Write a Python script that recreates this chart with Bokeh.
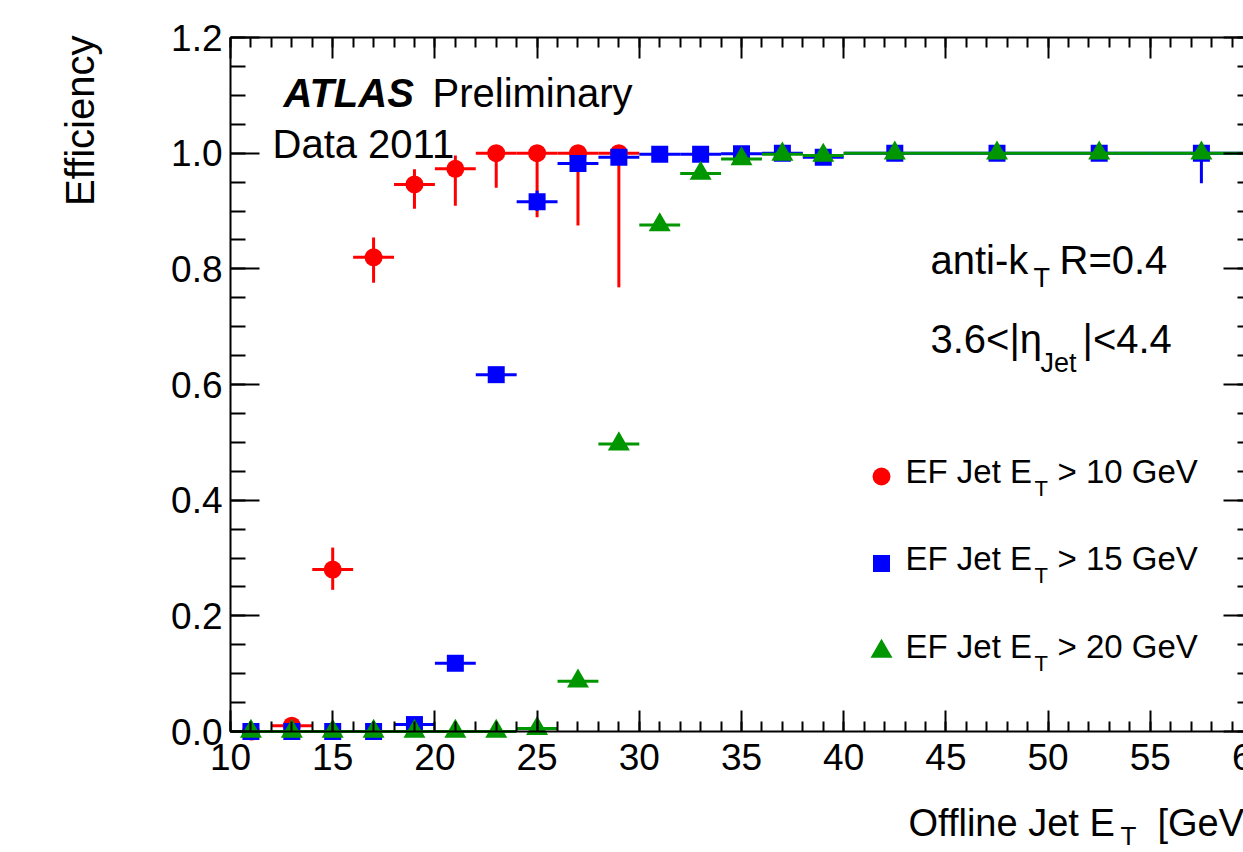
import numpy as np
from math import pi
from bokeh.plotting import figure
from bokeh.models import Range1d, LinearAxis, FixedTicker, PrintfTickFormatter, Label
from bokeh.embed import file_html
from bokeh.resources import INLINE

# ---------------- data ----------------
bin_edges = [10, 12, 14, 16, 18, 20, 22, 24, 26, 28, 30, 32, 34, 36, 38, 40, 45, 50, 55, 60]

# EF Jet ET > 10 GeV (first 10 bins)
eff10 = [0.0, 0.010, 0.280, 0.820, 0.946, 0.973, 1.000, 1.000, 1.000, 1.000]
eff10_lo = [0.0, 0.0, 0.245, 0.776, 0.904, 0.909, 0.940, 0.889, 0.875, 0.768]
eff10_hi = [0.0, 0.020, 0.318, 0.854, 0.972, 0.996, 1.000, 1.000, 1.000, 1.000]

# EF Jet ET > 15 GeV
eff15 = [0.0, 0.0, 0.0, 0.0, 0.012, 0.118, 0.617, 0.916, 0.982, 0.993,
         0.998, 0.998, 0.999, 1.000, 0.993, 1.000, 1.000, 1.000, 1.000]
eff15_lo = [0.0, 0.0, 0.0, 0.0, 0.005, 0.108, 0.605, 0.900, 0.970, 0.985,
            0.994, 0.994, 0.995, 0.997, 0.985, 0.996, 0.990, 0.993, 0.948]
eff15_hi = [0.0, 0.0, 0.0, 0.0, 0.020, 0.128, 0.629, 0.935, 0.990, 0.998,
            1.000, 1.000, 1.000, 1.000, 0.998, 1.000, 1.000, 1.000, 1.000]

# EF Jet ET > 20 GeV
eff20 = [0.0, 0.0, 0.0, 0.0, 0.0, 0.0, 0.0, 0.005, 0.087, 0.497,
         0.876, 0.965, 0.990, 0.998, 0.996, 1.000, 1.000, 1.000, 1.000]
eff20_lo = [0.0, 0.0, 0.0, 0.0, 0.0, 0.0, 0.0, 0.002, 0.080, 0.488,
            0.868, 0.960, 0.986, 0.995, 0.993, 0.998, 0.998, 0.998, 0.998]
eff20_hi = [0.0, 0.0, 0.0, 0.0, 0.0, 0.0, 0.0, 0.008, 0.094, 0.506,
            0.884, 0.970, 0.994, 1.000, 0.999, 1.000, 1.000, 1.000, 1.000]

x_tick_values = [10, 15, 20, 25, 30, 35, 40, 45, 50, 55, 60]
y_tick_values = [0.0, 0.2, 0.4, 0.6, 0.8, 1.0, 1.2]

legend_labels = ["10", "15", "20"]

# ---------------- layout ----------------
FONT = "Liberation Sans"
RED, BLUE, GREEN = "#ff0000", "#0000ff", "#009600"
W, H = 1243, 852
XA0, XA1 = 10.0, 60.0       # axis extent
YA0, YA1 = 0.0, 1.2
PX10, PXPU = 230.0, 20.44   # pixel of x=10, pixels per GeV
PY0, PYPU = 731.0, 578.33   # pixel of y=0, pixels per unit efficiency
BASE_SHIFT = 0.36           # empirical baseline correction (fraction of font size)


def dx(px):
    return XA0 + (px - PX10) / PXPU


def dy(py):
    return YA0 + (PY0 - py) / PYPU


p = figure(width=W, height=H, x_range=Range1d(dx(0), dx(W)), y_range=Range1d(dy(H), dy(0)),
           output_backend="svg", toolbar_location=None,
           x_axis_location=None, y_axis_location=None,
           min_border_left=0, min_border_right=0, min_border_top=0, min_border_bottom=0)
p.xgrid.visible = False
p.ygrid.visible = False
p.outline_line_color = None
p.background_fill_color = "white"
p.border_fill_color = "white"

x_minor = [float(v) for v in np.arange(10, 61, 1)]
y_minor = [round(float(v), 2) for v in np.arange(0, 1.2001, 0.05)]
xt = FixedTicker(ticks=x_tick_values, minor_ticks=x_minor)
yt = FixedTicker(ticks=y_tick_values, minor_ticks=y_minor)


def make_axis(ticker, loc, bounds, tin, mtin, labels):
    ax = LinearAxis(ticker=ticker, fixed_location=loc, bounds=bounds)
    ax.major_tick_in = tin
    ax.major_tick_out = 0
    ax.minor_tick_in = mtin
    ax.minor_tick_out = 0
    ax.major_tick_line_width = 2
    ax.minor_tick_line_width = 2
    ax.axis_line_width = 2
    ax.major_tick_line_color = "black"
    ax.minor_tick_line_color = "black"
    ax.axis_line_color = "black"
    if labels:
        ax.major_label_text_font = FONT
        ax.major_label_text_font_size = "37px"
        ax.major_label_text_color = "black"
    else:
        ax.major_label_text_color = None
    return ax


bottom = make_axis(xt, YA0, (XA0, XA1), 21, 10, True)
bottom.major_label_standoff = 12
p.add_layout(bottom, "below")

left = make_axis(yt, XA0, (YA0, YA1), 29, 15, True)
left.formatter = PrintfTickFormatter(format="%.1f")
left.major_label_standoff = 8
p.add_layout(left, "left")

top = make_axis(xt, YA1, (XA0, XA1), 21, 10, False)
p.add_layout(top, "above")

right = make_axis(yt, XA1, (YA0, YA1), 29, 15, False)
p.add_layout(right, "right")

# ---------------- data drawing ----------------
edges = np.array(bin_edges, dtype=float)
centers = (edges[:-1] + edges[1:]) / 2.0


def draw_series(vals, lo, hi, color, marker, size):
    n = len(vals)
    c = centers[:n]
    p.segment(x0=edges[:n], x1=edges[1:n + 1], y0=vals, y1=vals, line_color=color, line_width=3)
    p.segment(x0=c, x1=c, y0=lo, y1=hi, line_color=color, line_width=3)
    p.scatter(x=c, y=vals, marker=marker, size=size, fill_color=color, line_color=color, line_width=0)


draw_series(eff10, eff10_lo, eff10_hi, RED, "circle", 18)
draw_series(eff15, eff15_lo, eff15_hi, BLUE, "square", 17)
draw_series(eff20, eff20_lo, eff20_hi, GREEN, "triangle", 22)

# ---------------- texts ----------------


def lab(text, px, py, size, style="normal", align="left", angle=0.0):
    if angle:
        px = px - BASE_SHIFT * size
    else:
        py = py - BASE_SHIFT * size
    p.add_layout(Label(x=dx(px), y=dy(py), text=text, text_font=FONT, text_font_size=f"{size}px",
                       text_font_style=style, text_align=align, text_baseline="alphabetic",
                       text_color="black", angle=angle))


lab("ATLAS", 283, 107, 40, style="bold italic")
lab("Preliminary", 432, 107, 40)
lab("Data 2011", 272, 158, 40)

lab("anti-k", 930, 274, 40)
lab("T", 1033, 287, 27)
lab("R=0.4", 1059, 274, 40)

lab("3.6<|\u03b7", 930, 353, 40)
lab("Jet", 1040, 372, 27)
lab("|<4.4", 1082, 353, 40)

# legend
leg_rows = [476, 563, 651]
leg_colors = [RED, BLUE, GREEN]
leg_markers = ["circle", "square", "triangle"]
leg_sizes = [18, 17, 22]
for row, col, mk, sz, thr in zip(leg_rows, leg_colors, leg_markers, leg_sizes, legend_labels):
    p.scatter(x=[dx(881)], y=[dy(row)], marker=mk, size=sz, fill_color=col, line_color=col, line_width=0)
    lab("EF Jet E", 905, row + 7, 33)
    lab("T", 1034, row + 20, 22)
    lab(f"> {thr} GeV", 1057, row + 7, 33)

# axis titles (ROOT style: right-aligned at the axis end, partly beyond the crop)
lab("Offline Jet E", 908, 836, 38)
lab("T", 1120, 845, 26)
lab("[GeV]", 1157, 836, 38)
lab("60", 1252, 770, 37, align="center")

lab("Efficiency", 94, 35, 40, align="right", angle=pi / 2)

open("out.html", "w").write(file_html(p, INLINE))
